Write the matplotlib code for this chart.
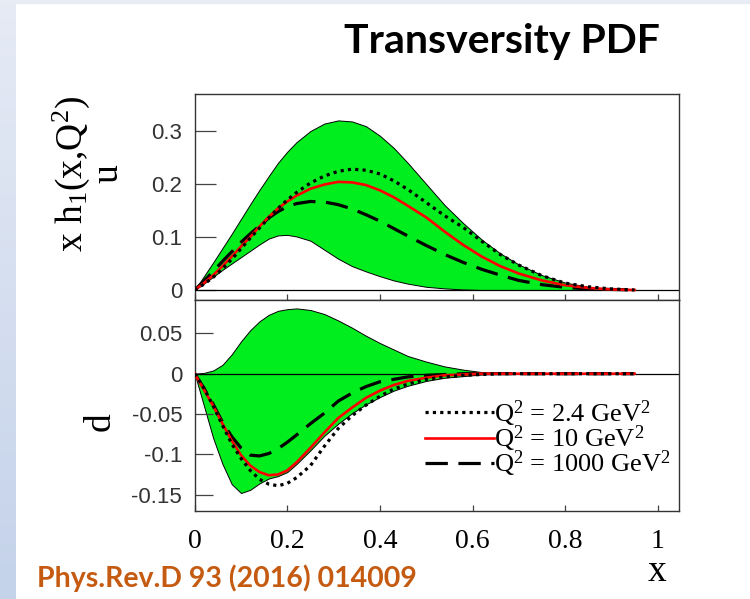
import numpy as np
import matplotlib
matplotlib.use("Agg")
import matplotlib.pyplot as plt
from matplotlib.patches import Rectangle

plt.rcParams['mathtext.fontset'] = 'custom'
plt.rcParams['mathtext.rm'] = 'Liberation Serif'
plt.rcParams['mathtext.it'] = 'Liberation Serif:italic'

#___Data___#
x = [0, 0.02, 0.04, 0.06, 0.08, 0.10, 0.12, 0.14, 0.16, 0.18, 0.20, 0.22, 0.25,
     0.28, 0.31, 0.34, 0.37, 0.40, 0.43, 0.46, 0.50, 0.54, 0.58, 0.62, 0.66,
     0.70, 0.75, 0.80, 0.85, 0.90, 0.95]

# u quark: error band and three scales
u_hi = [0, 0.026, 0.052, 0.079, 0.106, 0.134, 0.162, 0.189, 0.215, 0.240, 0.261,
        0.279, 0.300, 0.314, 0.320, 0.318, 0.309, 0.291, 0.268, 0.240, 0.200,
        0.160, 0.126, 0.095, 0.069, 0.048, 0.028, 0.014, 0.006, 0.002, 0]
u_lo = [0, 0.012, 0.025, 0.038, 0.050, 0.062, 0.074, 0.086, 0.097, 0.103, 0.104,
        0.101, 0.093, 0.076, 0.059, 0.045, 0.035, 0.026, 0.018, 0.012, 0.006,
        0.003, 0.001, 0, 0, 0, 0, 0, 0, 0, 0]
u_q24 = [0, 0.011, 0.024, 0.040, 0.058, 0.078, 0.098, 0.117, 0.136, 0.154, 0.170,
         0.184, 0.202, 0.215, 0.224, 0.228, 0.226, 0.219, 0.206, 0.190, 0.165,
         0.140, 0.118, 0.092, 0.067, 0.047, 0.027, 0.013, 0.006, 0.002, 0]
u_q10 = [0, 0.013, 0.028, 0.045, 0.063, 0.082, 0.100, 0.120, 0.138, 0.154, 0.167,
         0.178, 0.191, 0.199, 0.204, 0.203, 0.198, 0.188, 0.175, 0.159, 0.137,
         0.110, 0.085, 0.063, 0.045, 0.031, 0.018, 0.009, 0.004, 0.001, 0]
u_q1000 = [0, 0.017, 0.035, 0.054, 0.072, 0.090, 0.106, 0.121, 0.136, 0.148, 0.157,
           0.163, 0.167, 0.166, 0.161, 0.153, 0.142, 0.130, 0.116, 0.102, 0.084,
           0.067, 0.052, 0.039, 0.028, 0.018, 0.010, 0.005, 0.002, 0.001, 0]

# d quark
d_hi = [0, 0.001, 0.004, 0.011, 0.024, 0.040, 0.054, 0.065, 0.073, 0.078, 0.080,
        0.081, 0.079, 0.074, 0.066, 0.057, 0.047, 0.038, 0.030, 0.022, 0.015,
        0.009, 0.005, 0.002, 0.001, 0, 0, 0, 0, 0, 0]
d_lo = [0, -0.040, -0.080, -0.112, -0.137, -0.148, -0.144, -0.136, -0.130, -0.127,
        -0.122, -0.112, -0.095, -0.077, -0.062, -0.049, -0.038, -0.029, -0.021,
        -0.015, -0.009, -0.005, -0.003, -0.001, 0, 0, 0, 0, 0, 0, 0]
d_q24 = [0, -0.018, -0.040, -0.064, -0.087, -0.105, -0.120, -0.131, -0.137, -0.139,
         -0.136, -0.129, -0.114, -0.090, -0.068, -0.052, -0.039, -0.028, -0.019,
         -0.013, -0.007, -0.004, -0.002, -0.001, 0, 0, 0, 0, 0, 0, 0]
d_q10 = [0, -0.020, -0.040, -0.062, -0.083, -0.101, -0.114, -0.122, -0.126, -0.125,
         -0.120, -0.110, -0.092, -0.073, -0.055, -0.042, -0.030, -0.021, -0.014,
         -0.009, -0.005, -0.002, -0.001, 0, 0, 0, 0, 0, 0, 0, 0]
d_q1000 = [0, -0.018, -0.038, -0.060, -0.078, -0.092, -0.101, -0.102, -0.099, -0.093,
           -0.085, -0.076, -0.062, -0.049, -0.034, -0.024, -0.016, -0.010, -0.007,
           -0.004, -0.002, -0.001, 0, 0, 0, 0, 0, 0, 0, 0, 0]

labels = [r'Q$^2$ = 2.4 GeV$^2$', r'Q$^2$ = 10 GeV$^2$', r'Q$^2$ = 1000 GeV$^2$']
u_ticks = [0, 0.1, 0.2, 0.3]
u_ticklabels = ['0', '0.1', '0.2', '0.3']
d_ticks = [-0.15, -0.1, -0.05, 0, 0.05]
d_ticklabels = ['-0.15', '-0.1', '-0.05', '0', '0.05']
x_ticks = [0, 0.2, 0.4, 0.6, 0.8, 1.0]
x_ticklabels = ['0', '0.2', '0.4', '0.6', '0.8', '1']

#___Figure___#
W, H = 750, 599
fig = plt.figure(figsize=(W / 100, H / 100), dpi=100)
fig.patch.set_facecolor('white')


def px_box(l, t, r, b):
    return [l / W, 1 - b / H, (r - l) / W, (b - t) / H]


# slide decoration: blue strip on the left, thin band on top
strip = fig.add_axes(px_box(0, 0, 16, H))
strip.imshow(np.linspace(0, 1, 256)[:, None], aspect='auto', extent=(0, 1, 0, 1),
             cmap=matplotlib.colors.LinearSegmentedColormap.from_list(
                 'strip', ['#c4d2ea', '#e6ebf5']), origin='lower')
strip.axis('off')
fig.patches.append(Rectangle((0, 1 - 3 / H), 1, 3 / H, transform=fig.transFigure,
                             color='#e8ecf4', zorder=0))

ax_u = fig.add_axes(px_box(194.7, 94, 679, 300))
ax_d = fig.add_axes(px_box(194.7, 300, 679, 511))

GREEN = '#00ee1e'
dot_ls = (0, (1, 1.3))
dash_ls = (0, (7, 3.3))


def draw_panel(ax, hi, lo, q24, q10, q1000):
    ax.fill_between(x, lo, hi, facecolor=GREEN, edgecolor='black', lw=0.7, zorder=1)
    ax.axhline(0, color='black', lw=0.9, zorder=2)
    l3, = ax.plot(x, q1000, color='black', lw=2.3, ls=dash_ls, zorder=3)
    l2, = ax.plot(x, q10, color='#ff0000', lw=1.9, zorder=4)
    l1, = ax.plot(x, q24, color='black', lw=2.3, ls=dot_ls, zorder=5)
    ax.set_xlim(0, 1.046)
    for s in ax.spines.values():
        s.set_color('#333333')
        s.set_linewidth(1.0)
    return l1, l2, l3


draw_panel(ax_u, u_hi, u_lo, u_q24, u_q10, u_q1000)
handles = draw_panel(ax_d, d_hi, d_lo, d_q24, d_q10, d_q1000)

ax_u.set_ylim(-0.0189, 0.3698)
ax_d.set_ylim(-0.1703, 0.0914)

for ax, ticks, tlabels, ylen in [(ax_u, u_ticks, u_ticklabels, 15),
                                 (ax_d, d_ticks, d_ticklabels, 13)]:
    ax.set_yticks(ticks, tlabels, family='Liberation Sans', fontsize=16, color='#333333')
    ax.tick_params(axis='y', direction='in', length=ylen, width=0.9, pad=9,
                   color='#444444')
    ax.set_xticks(x_ticks)
    ax.tick_params(axis='x', direction='in', length=4.5, width=0.9, color='#444444')

ax_u.tick_params(axis='x', labelbottom=False)
ax_d.set_xticks(x_ticks, x_ticklabels, family='Liberation Serif', fontsize=20)
ax_d.tick_params(axis='x', pad=13)

ax_d.legend(handles, labels, loc='upper left', bbox_to_anchor=(0.4755, 0.535),
            frameon=False, handlelength=2.6, handletextpad=0.0, labelspacing=-0.2,
            borderpad=0, borderaxespad=0,
            prop={'family': 'Liberation Serif', 'size': 19})

# axis titles
fig.text(88 / W, 1 - 174 / H, 'x h$_1$(x,Q$^2$)\nu', rotation=90, ha='center',
         va='center', family='Liberation Serif', fontsize=27, linespacing=0.95,
         multialignment='center')
fig.text(100 / W, 1 - 422 / H, 'd', rotation=90, ha='center', va='center',
         family='Liberation Serif', fontsize=27)
fig.text(657 / W, 1 - 572 / H, 'x', ha='center', va='center',
         family='Liberation Serif', fontsize=27)

# slide title and reference
fig.text(502 / W, 1 - 42 / H, 'Transversity PDF', ha='center', va='center',
         family='Lato', fontweight='bold', fontsize=29.5)
fig.text(37 / W, 1 - 578 / H, 'Phys.Rev.D 93 (2016) 014009', ha='left', va='center',
         family='Lato', fontweight='bold', fontsize=20.5, color='#c55a11')

fig.savefig('out.png', dpi=100)
